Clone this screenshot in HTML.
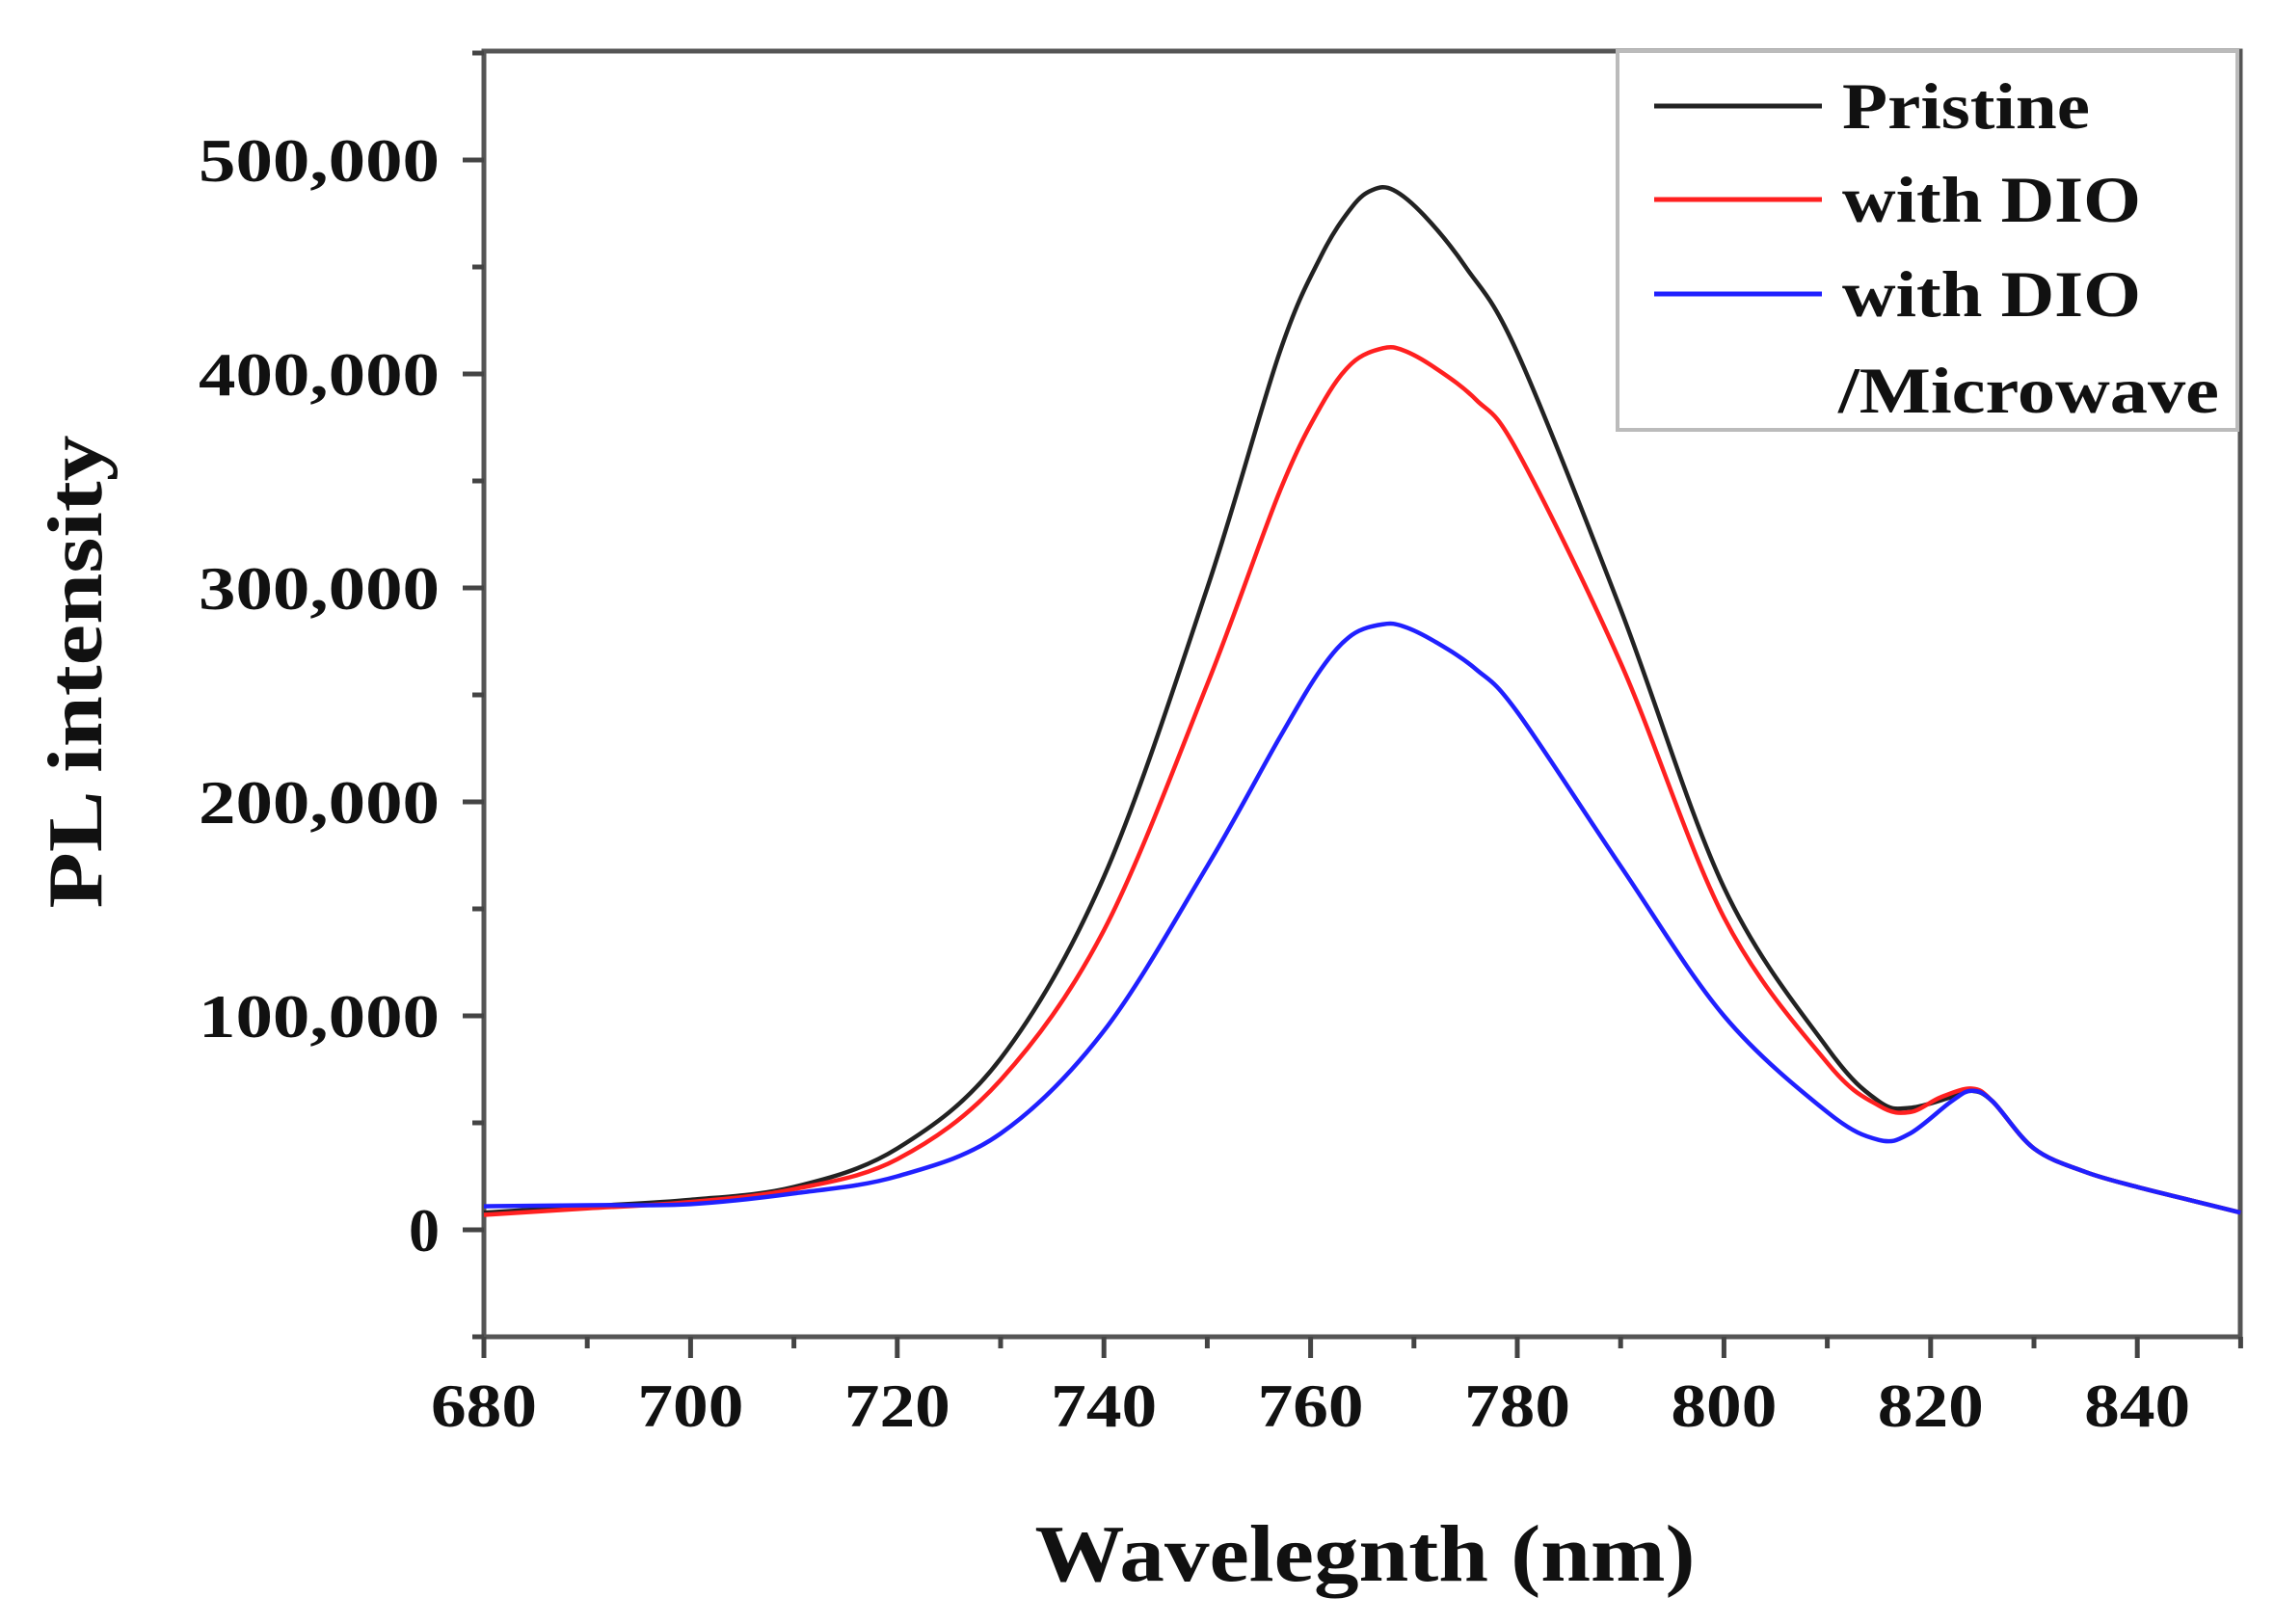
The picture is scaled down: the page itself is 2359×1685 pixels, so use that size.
<!DOCTYPE html>
<html><head><meta charset="utf-8"><style>body{margin:0;background:#fff}svg{display:block}text{font-family:"Liberation Serif",serif;font-weight:bold;fill:#111}</style></head>
<body>
<svg id="s" width="2359" height="1685" viewBox="0 0 2359 1685" xmlns="http://www.w3.org/2000/svg">
<rect x="502" y="53" width="1822" height="1334" fill="none" stroke="#555" stroke-width="5"/>
<g id="ticks" stroke="#444" stroke-width="5"></g>
<g id="lbl" font-size="64"></g>
<g id="curves" fill="none" stroke-width="4.5"></g>
<rect x="1678" y="53" width="643" height="393" fill="#fff" stroke="#bbb" stroke-width="4"/>
<line x1="1716" y1="110" x2="1890" y2="110" stroke="#222" stroke-width="5"/>
<line x1="1716" y1="207" x2="1890" y2="207" stroke="#ff2020" stroke-width="5"/>
<line x1="1716" y1="305" x2="1890" y2="305" stroke="#2020ff" stroke-width="5"/>
<g font-size="68" lengthAdjust="spacingAndGlyphs">
<text x="1911" y="133" textLength="257" lengthAdjust="spacingAndGlyphs">Pristine</text>
<text x="1911" y="230" textLength="310" lengthAdjust="spacingAndGlyphs">with DIO</text>
<text x="1911" y="328" textLength="310" lengthAdjust="spacingAndGlyphs">with DIO</text>
<text x="1907" y="428" textLength="395" lengthAdjust="spacingAndGlyphs">/Microwave</text>
</g>
<text x="1416" y="1640" font-size="84" text-anchor="middle" textLength="685" lengthAdjust="spacingAndGlyphs">Wavelegnth (nm)</text>
<text transform="translate(105,697) rotate(-90)" font-size="80" text-anchor="middle" textLength="491" lengthAdjust="spacingAndGlyphs">PL intensity</text>
</svg>
<script>
var X=function(n){return 502+(n-680)*10.72},Y=function(k){return 1276-k*2.22};
var ns="http://www.w3.org/2000/svg",t=document.getElementById('ticks'),l=document.getElementById('lbl'),c=document.getElementById('curves');
function el(p,tag,a,txt){var e=document.createElementNS(ns,tag);for(var k in a)e.setAttribute(k,a[k]);if(txt)e.textContent=txt;p.appendChild(e);return e;}
for(var n=680;n<=850;n+=10){var x=X(n),big=n%20==0;el(t,'line',{x1:x,x2:x,y1:1387,y2:1387+(big?22:12)});if(big)el(l,'text',{x:x,y:1480,'text-anchor':'middle',textLength:110,lengthAdjust:'spacingAndGlyphs'},String(n));}
for(var k=-50;k<=550;k+=50){var y=Y(k),big=k%100==0;el(t,'line',{x1:502,x2:502-(big?22:12),y1:y,y2:y});if(big&&k>=0){if(k==0)el(l,'text',{x:456,y:y+22,'text-anchor':'end'},'0');else el(l,'text',{x:456,y:y+22,'text-anchor':'end',textLength:250,lengthAdjust:'spacingAndGlyphs'},(k/100)+'00,000');}}
var S={
"#222":[[680,8],[690,11],[700,14],[710,20],[720,38],[730,80],[740,165],[750,300],[757,410],[761,455],[764,478],[766,486],[768,486],[771,474],[775,450],[780,410],[790,290],[800,160],[810,85],[815,60],[818,57],[822,62],[824,65],[826,60],[830,38],[835,27],[840,20],[845,14],[850,8]],
"#ff2020":[[680,7],[690,10],[700,13],[710,19],[720,33],[730,70],[740,140],[750,255],[757,345],[761,385],[764,405],[767,412],[769,411],[772,403],[776,388],[780,364],[790,265],[800,146],[810,78],[815,58],[818,55],[821,62],[824,66],[826,60],[830,38],[835,27],[840,20],[845,14],[850,8]],
"#2020ff":[[680,11],[690,11.5],[700,12],[710,17],[720,25],[730,45],[740,93],[750,170],[757,230],[761,262],[764,278],[767,283],[769,282],[772,275],[776,262],[780,242],[790,170],[800,100],[810,55],[815,42],[818,45],[822,60],[824,65],[826,60],[830,38],[835,27],[840,20],[845,14],[850,8]]};
for(var col in S){var p=S[col].map(function(q){return [X(q[0]),Y(q[1])]});var d='M'+p[0][0]+','+p[0][1];
for(var i=0;i<p.length-1;i++){var p0=p[i-1]||p[i],p1=p[i],p2=p[i+1],p3=p[i+2]||p2;
d+=' C'+(p1[0]+(p2[0]-p0[0])/6)+','+(p1[1]+(p2[1]-p0[1])/6)+' '+(p2[0]-(p3[0]-p1[0])/6)+','+(p2[1]-(p3[1]-p1[1])/6)+' '+p2[0]+','+p2[1];}
el(c,'path',{d:d,stroke:col});}
</script>
</body></html>
